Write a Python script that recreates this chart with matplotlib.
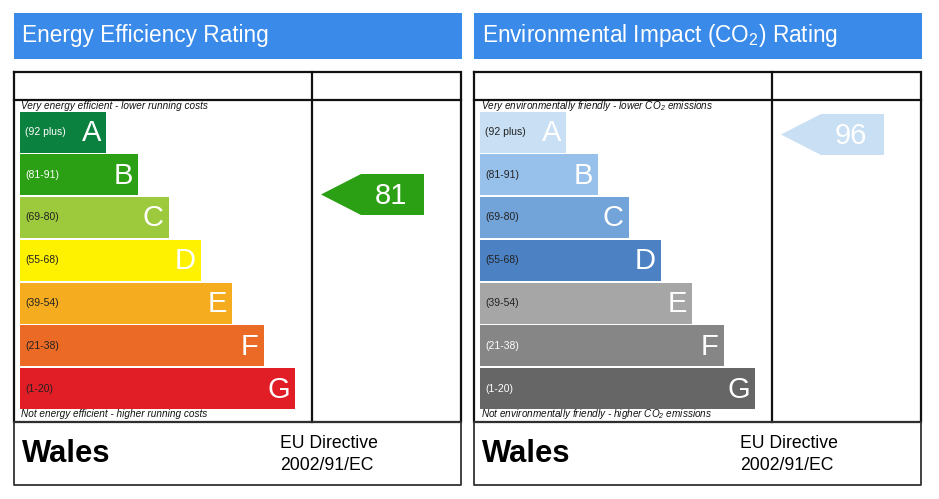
import matplotlib
matplotlib.use('Agg')
import matplotlib.pyplot as plt
from matplotlib.patches import Rectangle, Polygon

plt.rcParams['font.family'] = ['Liberation Sans', 'DejaVu Sans']
plt.rcParams['mathtext.default'] = 'regular'

# ---------------- data ----------------
bands = ['A', 'B', 'C', 'D', 'E', 'F', 'G']
band_ranges = ['(92 plus)', '(81-91)', '(69-80)', '(55-68)', '(39-54)', '(21-38)', '(1-20)']
band_min = [92, 81, 69, 55, 39, 21, 1]
energy_colors = ['#0b8140', '#2ba014', '#9dca3c', '#fff200', '#f5ac1f', '#eb6a25', '#e11e25']
co2_colors = ['#c8dff4', '#97c1eb', '#72a3d9', '#4c82c4', '#a6a6a6', '#868686', '#666666']
energy_range_text = ['white', 'white', '#222222', '#222222', '#222222', '#222222', '#222222']
co2_range_text = ['#222222', '#222222', '#222222', '#222222', '#222222', 'white', 'white']
energy_rating = 81
co2_rating = 96
titles = ['Energy Efficiency Rating', 'Environmental Impact (CO$_2$) Rating']
top_notes = ['Very energy efficient - lower running costs',
             'Very environmentally friendly - lower CO$_2$ emissions']
bottom_notes = ['Not energy efficient - higher running costs',
                'Not environmentally friendly - higher CO$_2$ emissions']
region = 'Wales'
directive = ['EU Directive', '2002/91/EC']

# ---------------- figure ----------------
fig = plt.figure(figsize=(9.39, 4.99), dpi=100)
ax = fig.add_axes([0, 0, 1, 1])
ax.set_xlim(0, 939)
ax.set_ylim(499, 0)
ax.axis('off')

banner_color = '#3a8ae9'


def score_y(v):
    # vertical position of the rating pointer on the score scale
    return 118.5 + (100 - v) * 4.0


def panel(x0, title, colors, range_text, rating, top_note, bottom_note):
    # title banner
    ax.add_patch(Rectangle((x0, 13), 448, 46, facecolor=banner_color, edgecolor='none'))
    ax.text(x0 + 8, 35, title, color='white', fontsize=16.3, va='center', ha='left')

    # table frame
    lw = 1.6
    ax.plot([x0, x0 + 447, x0 + 447, x0, x0], [72, 72, 422, 422, 72], color='#111111', lw=lw,
            solid_joinstyle='miter')
    ax.plot([x0, x0 + 447], [100, 100], color='#111111', lw=lw)
    ax.plot([x0 + 298, x0 + 298], [72, 422], color='#111111', lw=lw)
    # footer
    ax.plot([x0, x0 + 447, x0 + 447, x0, x0], [422, 422, 485, 485, 422], color='#333333', lw=1.3)

    # bars
    n = len(bands)
    centers = [132 + 42.75 * i for i in range(n)]
    widths = [86 + 31.5 * i for i in range(n)]
    ax.barh(centers, widths, left=x0 + 6, height=41, color=colors, edgecolor='none')
    for i in range(n):
        ax.text(x0 + 6 + widths[i] - 5, centers[i] + 1, bands[i], ha='right', va='center',
                fontsize=21, color='white')
        ax.text(x0 + 11, centers[i], band_ranges[i], ha='left', va='center',
                fontsize=7.5, color=range_text[i])

    ax.text(x0 + 7, 105.5, top_note, fontsize=7.2, style='italic', va='center', ha='left',
            color='#111111')
    ax.text(x0 + 7, 414, bottom_note, fontsize=7.2, style='italic', va='center', ha='left',
            color='#111111')

    # rating pointer
    idx = next(i for i, m in enumerate(band_min) if rating >= m)
    yc = score_y(rating)
    pts = [(x0 + 307, yc), (x0 + 347, yc - 20.5), (x0 + 410, yc - 20.5),
           (x0 + 410, yc + 20.5), (x0 + 347, yc + 20.5)]
    ax.add_patch(Polygon(pts, closed=True, facecolor=colors[idx], edgecolor='none'))
    ax.text(x0 + 377, yc + 1, str(rating), ha='center', va='center', fontsize=21, color='white')

    # footer text
    ax.text(x0 + 8, 454, region, fontsize=22.3, fontweight='bold', va='center', ha='left')
    ax.text(x0 + 266, 444, directive[0], fontsize=12.7, va='center', ha='left')
    ax.text(x0 + 266, 465, directive[1], fontsize=12.7, va='center', ha='left')


panel(14, titles[0], energy_colors, energy_range_text, energy_rating, top_notes[0], bottom_notes[0])
panel(474, titles[1], co2_colors, co2_range_text, co2_rating, top_notes[1], bottom_notes[1])

fig.savefig('out.png', dpi=100)
